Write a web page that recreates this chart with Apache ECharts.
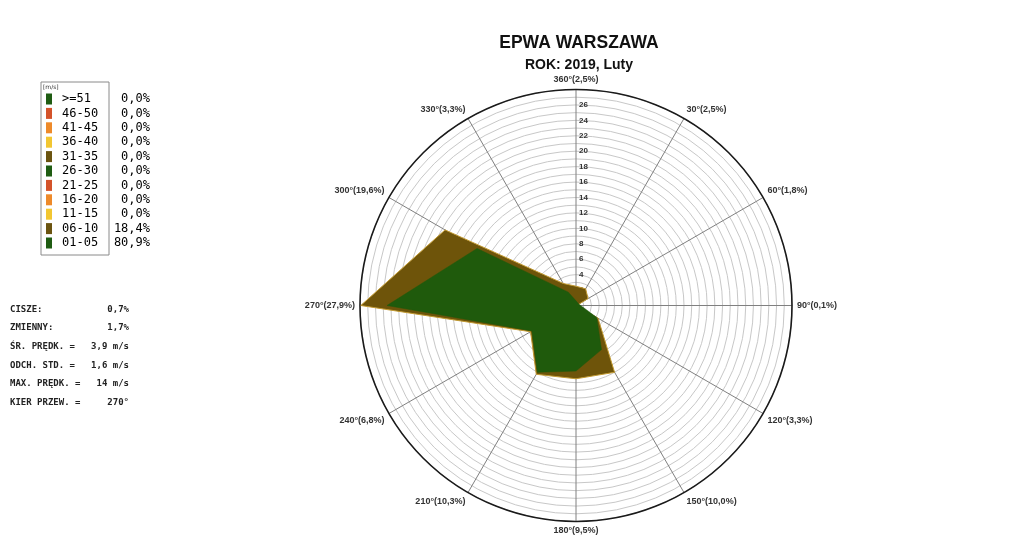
<!DOCTYPE html>
<html><head><meta charset="utf-8">
<script src="https://cdn.jsdelivr.net/npm/echarts@6/dist/echarts.min.js"></script>
<style>html,body{margin:0;padding:0;background:#fff}#c{width:1035px;height:549px}</style>
</head><body><div id="c"></div>
<script>
// ---- data ----
const titleText = 'EPWA WARSZAWA';
const subtitleText = 'ROK: 2019, Luty';
const dirAngles = [0, 30, 60, 90, 120, 150, 180, 210, 240, 270, 300, 330];
const dirPct = [2.5, 2.5, 1.8, 0.1, 3.3, 10.0, 9.5, 10.3, 6.8, 27.9, 19.6, 3.3];      // all speeds (01-05 + 06-10)
const speed0105 = [0.6, 0.5, 0.4, 0.1, 3.1, 6.6, 8.5, 10.0, 6.6, 24.5, 14.8, 2.0];    // 01-05 m/s
const radiusMax = 28;
const unitText = '[m/s]';
const legendBins = ['>=51', '46-50', '41-45', '36-40', '31-35', '26-30', '21-25', '16-20', '11-15', '06-10', '01-05'];
const legendPcts = ['0,0%', '0,0%', '0,0%', '0,0%', '0,0%', '0,0%', '0,0%', '0,0%', '0,0%', '18,4%', '80,9%'];
const legendColors = ['#1f5c12', '#d4532a', '#ee8a2a', '#f2c631', '#6b5410', '#1f5c12', '#d4532a', '#ee8a2a', '#f2c631', '#6b5410', '#1f5c12'];
const statLabels = ['CISZE:', 'ZMIENNY:', 'ŚR. PRĘDK. =', 'ODCH. STD. =', 'MAX. PRĘDK. =', 'KIER PRZEW. ='];
const statValues = ['0,7%', '1,7%', '3,9 m/s', '1,6 m/s', '14 m/s', '270°'];

// ---- helpers ----
const fmtPct = p => p.toFixed(1).replace('.', ',');
const dirLabel = a => {
  const i = dirAngles.indexOf(a);
  if (i < 0) return '';
  return (a === 0 ? 360 : a) + '°(' + fmtPct(dirPct[i]) + '%)';
};
const closed = arr => dirAngles.map((a, i) => [arr[i], a]).concat([[arr[0], 360]]);

const GREEN = '#1f5a0c';
const BROWN = '#6e540a';

// graphics: legend + stats
const graphics = [];
graphics.push({type: 'rect', shape: {x: 41, y: 82, width: 68, height: 173}, style: {fill: '#fff', stroke: '#8a8a8a', lineWidth: 1}, z: 1});
graphics.push({type: 'text', x: 43, y: 87, style: {text: unitText, font: '6px "DejaVu Sans"', fill: '#333', verticalAlign: 'middle'}, z: 2});
legendBins.forEach((b, i) => {
  const y = 99 + 14.4 * i;
  graphics.push({type: 'rect', shape: {x: 46, y: y - 5.5, width: 6, height: 11}, style: {fill: legendColors[i]}, z: 2});
  graphics.push({type: 'text', x: 62, y: y, style: {text: b, font: '12px "DejaVu Sans Mono"', fill: '#000', verticalAlign: 'middle'}, z: 2});
  graphics.push({type: 'text', x: 150, y: y, style: {text: legendPcts[i], font: '12px "DejaVu Sans Mono"', fill: '#000', align: 'right', verticalAlign: 'middle'}, z: 2});
});
const statY = [310, 328, 347, 366, 384, 403];
statLabels.forEach((s, i) => {
  graphics.push({type: 'text', x: 10, y: statY[i], style: {text: s, font: 'bold 9px "DejaVu Sans Mono"', fill: '#222', verticalAlign: 'middle'}});
  graphics.push({type: 'text', x: 129, y: statY[i], style: {text: statValues[i], font: 'bold 9px "DejaVu Sans Mono"', fill: '#222', align: 'right', verticalAlign: 'middle'}});
});

const chart = echarts.init(document.getElementById('c'), null, {renderer: 'canvas'});
chart.setOption({
  backgroundColor: '#fff',
  animation: false,
  title: {
    text: titleText,
    subtext: subtitleText,
    left: 574, top: 29, textAlign: 'center', itemGap: 6,
    textStyle: {fontFamily: 'Liberation Sans', fontWeight: 'bold', fontSize: 17.5, color: '#111'},
    subtextStyle: {fontFamily: 'Liberation Sans', fontWeight: 'bold', fontSize: 14, color: '#111'}
  },
  polar: {center: [576, 305.5], radius: 216},
  angleAxis: {
    type: 'value', min: 0, max: 360, interval: 30, startAngle: 90, clockwise: true,
    axisLine: {show: true, lineStyle: {color: '#1a1a1a', width: 1.6}},
    axisTick: {show: false},
    axisLabel: {
      show: true, margin: 5,
      formatter: v => (v === 360 ? '' : dirLabel(v)),
      fontFamily: 'Liberation Sans', fontWeight: 'bold', fontSize: 9, color: '#333'
    },
    splitLine: {show: true, lineStyle: {color: '#808080', width: 1}}
  },
  radiusAxis: {
    type: 'value', min: 0, max: radiusMax, interval: 2,
    axisLine: {show: false},
    axisTick: {show: false},
    axisLabel: {
      show: true, margin: -3, align: 'left',
      formatter: v => (v === 0 || v === radiusMax ? '' : String(v)),
      fontFamily: 'Liberation Sans', fontWeight: 'bold', fontSize: 8, color: '#333'
    },
    splitLine: {show: true, lineStyle: {color: '#c8c8c8', width: 1}},
    minorTick: {show: false, splitNumber: 2},
    minorSplitLine: {show: true, lineStyle: {color: '#c8c8c8', width: 1}}
  },
  series: [
    {
      name: 'all', type: 'line', coordinateSystem: 'polar',
      data: closed(dirPct), showSymbol: false, symbol: 'none',
      lineStyle: {color: '#c29a32', width: 1},
      areaStyle: {color: BROWN, opacity: 1},
      z: 3
    },
    {
      name: '01-05', type: 'line', coordinateSystem: 'polar',
      data: closed(speed0105), showSymbol: false, symbol: 'none',
      lineStyle: {color: GREEN, width: 0.5},
      areaStyle: {color: GREEN, opacity: 1},
      z: 4
    }
  ],
  graphic: graphics
});
</script>
</body></html>
